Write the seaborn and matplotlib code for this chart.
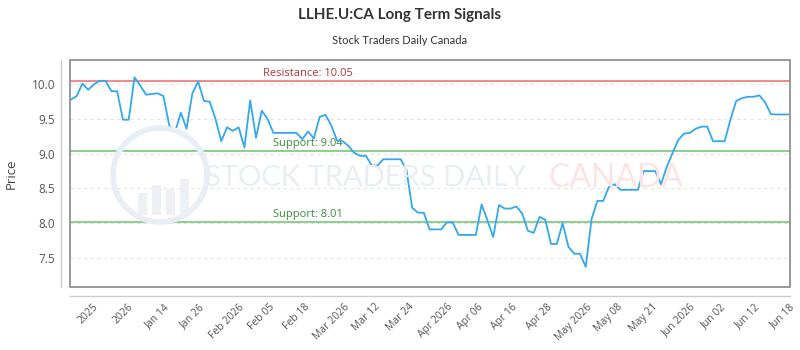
import numpy as np
import pandas as pd
import matplotlib
matplotlib.use("Agg")
import matplotlib.pyplot as plt
import seaborn as sns
from matplotlib.patches import Rectangle, Circle

# closing prices (one per session)
prices = [
    9.78, 9.83, 10.01, 9.92, 10.00, 10.05, 10.05, 9.90, 9.90, 9.49,
    9.49, 10.10, 9.98, 9.85, 9.86, 9.87, 9.83, 9.41, 9.31, 9.59,
    9.36, 9.87, 10.04, 9.76, 9.75, 9.50, 9.18, 9.38, 9.33, 9.38,
    9.09, 9.77, 9.23, 9.62, 9.50, 9.30, 9.30, 9.30, 9.30, 9.30,
    9.21, 9.32, 9.22, 9.53, 9.56, 9.41, 9.19, 9.18, 9.11, 9.01,
    8.97, 8.97, 8.83, 8.83, 8.92, 8.92, 8.92, 8.92, 8.77, 8.22,
    8.15, 8.15, 7.91, 7.91, 7.91, 8.01, 8.01, 7.83, 7.83, 7.83,
    7.83, 8.27, 8.04, 7.80, 8.26, 8.21, 8.21, 8.24, 8.14, 7.89,
    7.86, 8.09, 8.05, 7.70, 7.70, 8.00, 7.66, 7.56, 7.56, 7.37,
    8.06, 8.32, 8.32, 8.52, 8.56, 8.48, 8.48, 8.48, 8.48, 8.75,
    8.75, 8.75, 8.56, 8.81, 9.01, 9.20, 9.29, 9.30, 9.36, 9.39,
    9.39, 9.18, 9.18, 9.18, 9.49, 9.76, 9.80, 9.82, 9.82, 9.84,
    9.74, 9.57, 9.565, 9.565, 9.565,
]

tick_labels = ["2025", "2026", "Jan 14", "Jan 26", "Feb 2026", "Feb 05", "Feb 18",
               "Mar 2026", "Mar 12", "Mar 24", "Apr 2026", "Apr 06", "Apr 16", "Apr 28",
               "May 2026", "May 08", "May 21", "Jun 2026", "Jun 02", "Jun 12", "Jun 18"]
tick_pos = list(range(3, 3 + 6 * len(tick_labels), 6))

resistance = 10.05
supports = [9.04, 8.01]

df = pd.DataFrame({"idx": np.arange(len(prices)), "price": prices})

sns.set_style("white")
plt.rcParams["font.family"] = ["Open Sans", "DejaVu Sans"]

fig = plt.figure(figsize=(8, 3.5), dpi=100)
ax = fig.add_axes([70 / 800, 1 - 287 / 350, 720 / 800, 227 / 350])

# faint watermark (logo circle + brand text)
fig.patches.append(Circle((1.60, 1.75), 0.47, transform=fig.dpi_scale_trans,
                          facecolor="none", edgecolor="#e8eef5", lw=4, zorder=0))
for bx, bh in [(1.38, 0.22), (1.52, 0.30), (1.66, 0.26), (1.80, 0.36)]:
    fig.patches.append(Rectangle((bx, 1.35), 0.09, bh, transform=fig.dpi_scale_trans,
                                 facecolor="#edf1f6", edgecolor="none", zorder=0))
fig.text(205 / 800, 1 - 178 / 350, "STOCK TRADERS DAILY", fontsize=21, color="#e9eef4",
         family=["Lato", "DejaVu Sans"], va="center", ha="left", zorder=0)
fig.text(548 / 800, 1 - 178 / 350, "CANADA", fontsize=23, color="#fde4e4",
         family=["Lato", "DejaVu Sans"], va="center", ha="left", zorder=0)
ax.set_facecolor("none")

sns.lineplot(data=df, x="idx", y="price", ax=ax, color="#31a8f0", linewidth=1.3, zorder=5)

ax.axhline(resistance, color="#ef8c8c", lw=1.5, zorder=3)
for s in supports:
    ax.axhline(s, color="#8fcf8f", lw=1.5, zorder=3)

ax.text(41, resistance + 0.03, f"Resistance: {resistance}", color="#b83232", fontsize=8,
        ha="center", va="bottom")
for s in supports:
    ax.text(41, s + 0.03, f"Support: {s}", color="#3a8a3a", fontsize=8,
            ha="center", va="bottom")

ax.set_xlim(-0.15, 124.3)
ax.set_ylim(7.08, 10.35)
ax.set_yticks([7.5, 8.0, 8.5, 9.0, 9.5, 10.0])
ax.set_yticklabels(["7.5", "8.0", "8.5", "9.0", "9.5", "10.0"])
ax.yaxis.grid(True, linestyle=(0, (3, 3)), color="#e4e4e4", lw=0.8)
ax.set_axisbelow(True)

ax.set_xticks(tick_pos)
ax.set_xticklabels(tick_labels)
ax.tick_params(axis="x", length=0, pad=4, labelsize=7.5, labelcolor="#555555", labelrotation=45)
ax.tick_params(axis="y", length=0, pad=4, labelsize=8.5, labelcolor="#555555")
for lbl in ax.get_xticklabels():
    lbl.set_ha("right")
    lbl.set_rotation_mode("anchor")

ax.set_xlabel("")
ax.set_ylabel("Price", fontsize=9.5, color="#444444", labelpad=10)

for side in ["top", "right"]:
    ax.spines[side].set_visible(False)
for side in ["left", "bottom"]:
    ax.spines[side].set_position(("outward", 6.5))
    ax.spines[side].set_color("#cccccc")
    ax.spines[side].set_linewidth(1)
ax.add_patch(Rectangle((0, 0), 1, 1, transform=ax.transAxes, fill=False,
                       edgecolor="#888888", lw=1.2, clip_on=False, zorder=6))

fig.text(0.5, 1 - 15 / 350, "LLHE.U:CA Long Term Signals", ha="center", va="center",
         fontsize=11, fontweight="bold", color="#333333", family=["Lato", "DejaVu Sans"])
fig.text(0.5, 1 - 40 / 350, "Stock Traders Daily Canada", ha="center", va="center",
         fontsize=8, color="#333333", family=["Lato", "DejaVu Sans"])

fig.savefig("out.png", dpi=100)
